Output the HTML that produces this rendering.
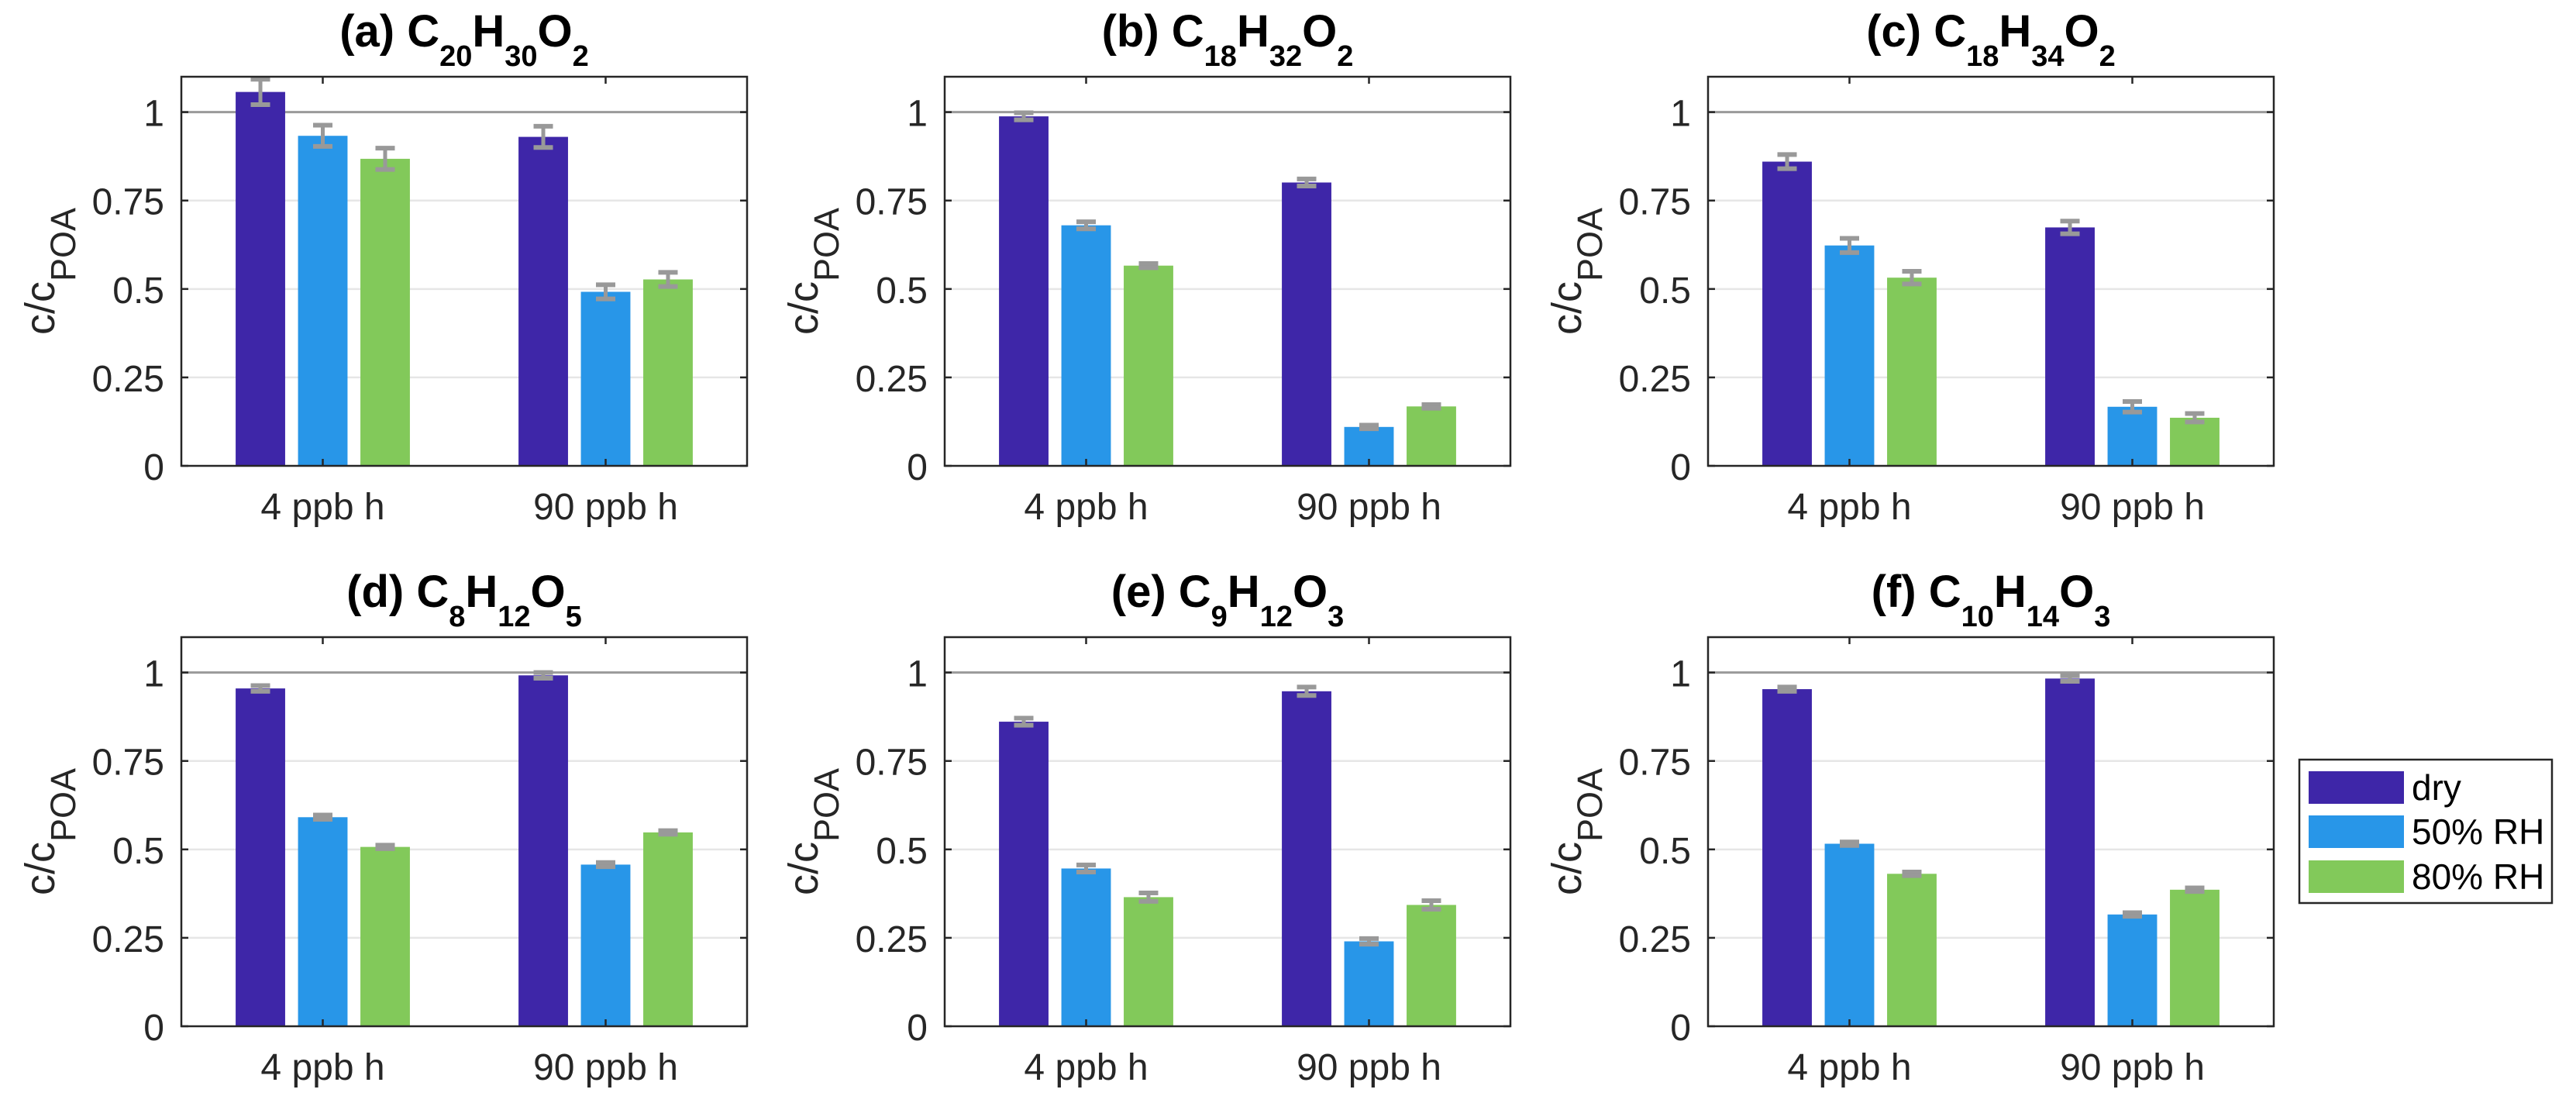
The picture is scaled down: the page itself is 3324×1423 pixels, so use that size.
<!DOCTYPE html>
<html><head><meta charset="utf-8"><style>
html,body{margin:0;padding:0;background:#fff;}
svg{display:block;font-family:"Liberation Sans",Arial,sans-serif;}
</style></head><body>
<svg id="fig" width="3324" height="1423" viewBox="0 0 3324 1423" xmlns="http://www.w3.org/2000/svg">
<rect width="3324" height="1423" fill="#fff"/>
</svg>
<script>
const categories = ["4 ppb h", "90 ppb h"];
const seriesNames = ["dry", "50% RH", "80% RH"];
const panelLetters = ["a","b","c","d","e","f"];
const formulas = [
  [["C","20"],["H","30"],["O","2"]],
  [["C","18"],["H","32"],["O","2"]],
  [["C","18"],["H","34"],["O","2"]],
  [["C","8"],["H","12"],["O","5"]],
  [["C","9"],["H","12"],["O","3"]],
  [["C","10"],["H","14"],["O","3"]]
];
// values[panel][category] = [dry, 50%RH, 80%RH]
const dryValues   = [[1.057,0.930],[0.988,0.801],[0.860,0.674],[0.955,0.992],[0.861,0.947],[0.953,0.983]];
const rh50Values  = [[0.933,0.492],[0.680,0.110],[0.623,0.167],[0.591,0.457],[0.446,0.240],[0.516,0.316]];
const rh80Values  = [[0.868,0.527],[0.566,0.168],[0.532,0.136],[0.507,0.548],[0.365,0.343],[0.431,0.386]];
const dryErr  = [[0.036,0.030],[0.010,0.010],[0.020,0.018],[0.008,0.008],[0.010,0.012],[0.006,0.008]];
const rh50Err = [[0.030,0.020],[0.010,0.005],[0.020,0.015],[0.006,0.006],[0.010,0.008],[0.005,0.005]];
const rh80Err = [[0.030,0.020],[0.006,0.005],[0.018,0.012],[0.005,0.005],[0.012,0.012],[0.005,0.005]];
const yTicks = [0, 0.25, 0.5, 0.75, 1];
const yTickLabels = ["0","0.25","0.5","0.75","1"];
const yMax = 1.1;

const colors = ["#3e26a8","#2896e8","#82c95a"];
const NS = "http://www.w3.org/2000/svg";
const svg = document.getElementById("fig");
function mk(tag, attrs, parent){
  const e = document.createElementNS(NS, tag);
  for (const k in attrs) e.setAttribute(k, attrs[k]);
  (parent||svg).appendChild(e);
  return e;
}
const W = 730, H = 502;
const lefts = [234, 1219, 2204];
const tops = [99, 822];

for (let p = 0; p < 6; p++) {
  const L = lefts[p % 3], T = tops[Math.floor(p / 3)], B = T + H, R = L + W;
  const xs = v => L + (v - 0.5) / 2 * W;
  const ys = v => B - v / yMax * H;
  const g = mk("g", {});
  
  
  // grid
  yTicks.forEach((t, i) => {
    if (t === 0) return;
    const gl = mk("line", {x1:L, x2:R, y1:ys(t), y2:ys(t), stroke: t===1 ? "#9a9a9a" : "#e6e6e6", "stroke-width": t===1 ? 3 : 2.5}, g);
    
    
  });
  // bars
  const vals = [dryValues[p], rh50Values[p], rh80Values[p]];
  const errs = [dryErr[p], rh50Err[p], rh80Err[p]];
  const off = 0.2205, bw = 0.175;
  for (let c = 0; c < categories.length; c++) {
    for (let s = 0; s < 3; s++) {
      const cx = c + 1 + (s - 1) * off;
      const v = vals[s][c];
      const x0 = xs(cx - bw / 2), x1 = xs(cx + bw / 2);
      const r = mk("rect", {x:x0, y:ys(v), width:x1 - x0, height:B - ys(v), fill:colors[s]}, g);
      
      
      const e = errs[s][c], xc = xs(cx);
      const eb = mk("g", {stroke:"#999", "stroke-width":6}, g);
      
      
      mk("line", {x1:xc, x2:xc, y1:ys(v + e), y2:ys(v - e), "stroke-width":5}, eb);
      mk("line", {x1:xc - 12.5, x2:xc + 12.5, y1:ys(v + e), y2:ys(v + e)}, eb);
      mk("line", {x1:xc - 12.5, x2:xc + 12.5, y1:ys(v - e), y2:ys(v - e)}, eb);
    }
  }
  // axes box
  const box = mk("rect", {x:L, y:T, width:W, height:H, fill:"none", stroke:"#262626", "stroke-width":2.5}, g);
  
  
  // y ticks
  yTicks.forEach((t, i) => {
    mk("line", {x1:L, x2:L + 9, y1:ys(t), y2:ys(t), stroke:"#262626", "stroke-width":2.5}, g);
    mk("line", {x1:R, x2:R - 9, y1:ys(t), y2:ys(t), stroke:"#262626", "stroke-width":2.5}, g);
    const tl = mk("text", {x:L - 22, y:ys(t) + 18, "text-anchor":"end", "font-size":48, fill:"#262626"}, g);
    tl.textContent = yTickLabels[i];
    
    
  });
  // x ticks
  categories.forEach((cat, c) => {
    const x = xs(c + 1);
    mk("line", {x1:x, x2:x, y1:B, y2:B - 9, stroke:"#262626", "stroke-width":2.5}, g);
    mk("line", {x1:x, x2:x, y1:T, y2:T + 9, stroke:"#262626", "stroke-width":2.5}, g);
    const xl = mk("text", {x:x, y:B + 69, "text-anchor":"middle", "font-size":48, fill:"#262626"}, g);
    xl.textContent = cat;
    
    
  });
  // y label
  const yl = mk("text", {transform:`translate(${L - 164},${(T + B) / 2}) rotate(-90)`, "text-anchor":"middle", "font-size":54, fill:"#262626"}, g);
  
  
  const t1 = mk("tspan", {}, yl); t1.textContent = "c/c";
  const t2 = mk("tspan", {dy:27, "font-size":45}, yl); t2.textContent = "POA";
  // title
  const tt = mk("text", {x:L + W / 2, y:T - 39, "text-anchor":"middle", "font-size":58, "font-weight":"bold", fill:"#000"}, g);
  
  
  const pre = mk("tspan", {}, tt); pre.textContent = "(" + panelLetters[p] + ") ";
  formulas[p].forEach(([el, n]) => {
    const a = mk("tspan", {"font-size":58, dy:0}, tt); a.textContent = el;
    const b = mk("tspan", {"font-size":38, dy:25}, tt); b.textContent = n;
    const z = mk("tspan", {"font-size":1, dy:-25}, tt); z.textContent = "\u200b";
  });
}

// legend
const lg = mk("g", {});


mk("rect", {x:2967, y:980, width:326, height:185, fill:"#fff", stroke:"#262626", "stroke-width":2.5}, lg);
const rowYs = [995, 1052, 1110];
seriesNames.forEach((nm, i) => {
  const en = mk("g", {}, lg);
  
  
  mk("rect", {x:2979, y:rowYs[i], width:123, height:42, fill:colors[i]}, en);
  const t = mk("text", {x:3112, y:rowYs[i] + 37, "font-size":46, fill:"#000"}, en);
  t.textContent = nm;
});
</script>
</body></html>
